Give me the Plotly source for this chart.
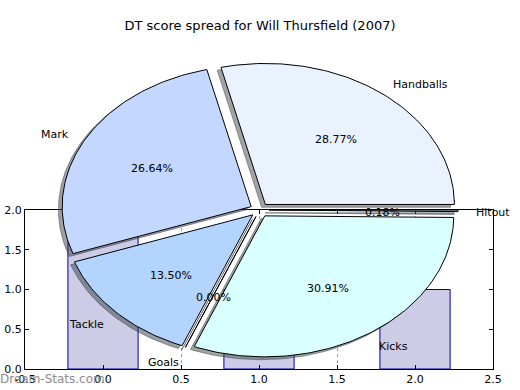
import numpy as np
import plotly.graph_objects as go

# ---------------- data ----------------
slice_labels = ["Handballs", "Mark", "Tackle", "Goals", "Kicks", "Hitout"]
slice_pcts = [28.77, 26.64, 13.50, 0.00, 30.91, 0.18]

bar_positions = [0, 1, 2]
bar_values = [2.0, 1.0, 1.0]

x_tick_vals = [-0.5, 0.0, 0.5, 1.0, 1.5, 2.0, 2.5]
x_tick_text = ["-0.5", "0.0", "0.5", "1.0", "1.5", "2.0", "2.5"]
y_tick_vals = [0.0, 0.5, 1.0, 1.5, 2.0]
y_tick_text = ["0.0", "0.5", "1.0", "1.5", "2.0"]

title_text = "DT score spread for Will Thursfield (2007)"
watermark_text = "Dream-Stats.com"

# ---------------- styles ----------------
slice_colors = [(234, 241, 255), (196, 216, 255), (179, 212, 255),
                (200, 200, 255), (217, 255, 255), (190, 220, 255)]
FONT = "DejaVu Sans"
W, H = 520, 390
PIE_CX, PIE_CY, PIE_RX, PIE_RY = 259.5, 210.0, 189.0, 141.0
EXPLODE = 0.05
SHADOW = 0.02

x2range = [-PIE_CX / PIE_RX, (W - PIE_CX) / PIE_RX]
y2range = [-(H - PIE_CY) / PIE_RY, PIE_CY / PIE_RY]

fig = go.Figure()

# bar chart (underneath)
fig.add_trace(go.Bar(
    x=bar_positions, y=bar_values, width=0.45,
    marker=dict(color="rgb(204,204,230)", line=dict(color="rgb(0,0,160)", width=1)),
    xaxis="x", yaxis="y", hoverinfo="skip", showlegend=False,
))

# pie wedges computed from the percentages
total = float(sum(slice_pcts))
theta1 = 0.0
wedges = []
for lab, pct, col in zip(slice_labels, slice_pcts, slice_colors):
    theta2 = theta1 + 360.0 * pct / total
    mid = np.deg2rad((theta1 + theta2) / 2.0)
    ox, oy = EXPLODE * np.cos(mid), EXPLODE * np.sin(mid)
    n = max(2, int(abs(theta2 - theta1)) + 2)
    t = np.deg2rad(np.linspace(theta1, theta2, n))
    xs = np.concatenate([[ox], ox + np.cos(t), [ox]])
    ys = np.concatenate([[oy], oy + np.sin(t), [oy]])
    wedges.append((lab, pct, col, xs, ys, mid, ox, oy))
    theta1 = theta2

# shadows first
for lab, pct, col, xs, ys, mid, ox, oy in wedges:
    r, g, b = [0.3 * c for c in col]
    sc = f"rgba({r:.0f},{g:.0f},{b:.0f},0.5)"
    fig.add_trace(go.Scatter(
        x=xs - SHADOW, y=ys - SHADOW, mode="lines", fill="toself",
        fillcolor=sc, line=dict(color=sc, width=1),
        xaxis="x2", yaxis="y2", hoverinfo="skip", showlegend=False,
    ))

for lab, pct, col, xs, ys, mid, ox, oy in wedges:
    fig.add_trace(go.Scatter(
        x=xs, y=ys, mode="lines", fill="toself",
        fillcolor=f"rgb{col}", line=dict(color="black", width=1),
        xaxis="x2", yaxis="y2", hoverinfo="skip", showlegend=False,
    ))

annotations = []
for lab, pct, col, xs, ys, mid, ox, oy in wedges:
    lx, ly = ox + 1.1 * np.cos(mid), oy + 1.1 * np.sin(mid)
    left = lx > 0
    annotations.append(dict(
        x=lx, y=ly, xref="x2", yref="y2", text=lab, showarrow=False,
        xanchor="left" if left else "right", yanchor="middle",
        xshift=-3 if left else 3, yshift=-2,
        font=dict(family=FONT, size=11, color="black"),
    ))
    px, py = ox + 0.6 * np.cos(mid), oy + 0.6 * np.sin(mid)
    annotations.append(dict(
        x=px, y=py, xref="x2", yref="y2", text=f"{pct:.2f}%", showarrow=False,
        xanchor="center", yanchor="middle", yshift=-2,
        font=dict(family=FONT, size=11, color="black"),
    ))

annotations.append(dict(
    x=0.0, y=1 - 379 / H, xref="paper", yref="paper", text=watermark_text,
    showarrow=False, xanchor="left", yanchor="middle", xshift=-2,
    font=dict(family=FONT, size=12, color="rgb(140,140,140)"),
))

fig.update_layout(
    width=W, height=H,
    margin=dict(l=0, r=0, t=0, b=0, autoexpand=False),
    paper_bgcolor="white", plot_bgcolor="rgba(0,0,0,0)",
    font=dict(family=FONT, size=11, color="black"),
    title=dict(text=title_text, x=0.5, xanchor="center", y=1 - 25 / H, yanchor="middle",
               font=dict(family=FONT, size=13, color="black")),
    showlegend=False,
    xaxis=dict(domain=[25 / W, 493 / W], range=[-0.5, 2.5], anchor="y", automargin=False,
               tickmode="array", tickvals=x_tick_vals, ticktext=x_tick_text,
               showgrid=True, gridcolor="rgb(160,160,160)", griddash="dot", gridwidth=1,
               zeroline=False, showline=True, linecolor="black", linewidth=1,
               mirror="ticks", ticks="inside", ticklen=4, tickcolor="black",
               tickfont=dict(family=FONT, size=11, color="black")),
    yaxis=dict(domain=[(H - 369) / H, (H - 210) / H], range=[0, 2], anchor="x", automargin=False,
               tickmode="array", tickvals=y_tick_vals, ticktext=y_tick_text,
               showgrid=False, zeroline=False, showline=True, linecolor="black",
               linewidth=1, mirror="ticks", ticks="inside", ticklen=4, tickcolor="black",
               tickfont=dict(family=FONT, size=11, color="black")),
    xaxis2=dict(domain=[0, 1], range=x2range, anchor="y2", visible=False, fixedrange=True,
                automargin=False),
    yaxis2=dict(domain=[0, 1], range=y2range, anchor="x2", visible=False, fixedrange=True,
                automargin=False),
    annotations=annotations,
)

fig.write_html(
    "out.html",
    config={"displayModeBar": False, "staticPlot": True},
    post_script="document.body.style.margin='0';document.body.style.padding='0';"
                "document.body.style.overflow='hidden';",
)
